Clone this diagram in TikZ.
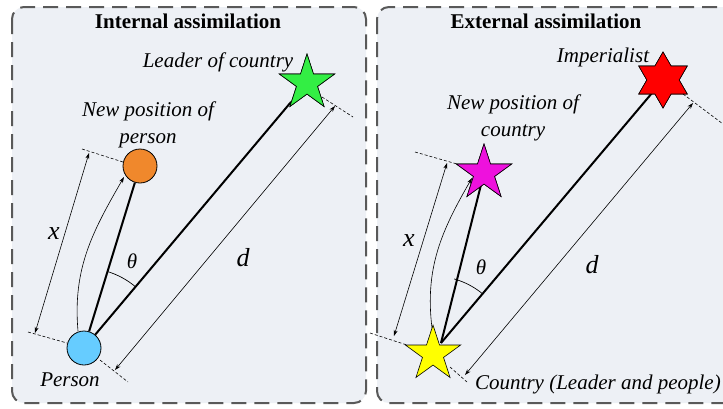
\documentclass[tikz,border=0pt]{standalone}
\usepackage{fontspec}
\setmainfont{Liberation Serif}
\usetikzlibrary{shapes.geometric,arrows.meta,calc}

\definecolor{panelfill}{RGB}{237,240,245}
\definecolor{panelline}{RGB}{89,89,89}
\definecolor{personblue}{RGB}{102,204,255}
\definecolor{personorange}{RGB}{240,136,44}
\definecolor{leadergreen}{RGB}{51,238,68}
\definecolor{countrymagenta}{RGB}{238,17,221}
\definecolor{countryyellow}{RGB}{255,255,0}
\definecolor{imperialred}{RGB}{255,0,0}

\tikzset{
  panel/.style={draw=panelline, fill=panelfill, line width=2pt,
    dash pattern=on 15pt off 8pt, rounded corners=12pt},
  paneltitle/.style={font=\fontsize{21}{24}\selectfont\bfseries, inner sep=0pt},
  caption/.style={font=\fontsize{21}{27}\selectfont\itshape, inner sep=0pt, align=center},
  symlabel/.style={font=\fontsize{26}{30}\selectfont\itshape, inner sep=0pt},
  anglelabel/.style={font=\fontsize{21}{24}\selectfont\itshape, inner sep=0pt},
  agent/.style={circle, draw=black, line width=0.8pt, minimum size=34pt, inner sep=0pt},
  fivestar/.style={star, star points=5, star point ratio=2.618, draw=black,
    line width=0.6pt, minimum size=58pt, inner sep=0pt},
  sixstar/.style={star, star points=6, star point ratio=1.732, draw=black,
    line width=0.6pt, minimum size=56pt, inner sep=0pt},
  bond/.style={line width=2pt},
  extline/.style={densely dashed, line width=0.6pt},
  dimarrow/.style={line width=0.6pt, {Stealth[length=6pt,width=4pt]}-{Stealth[length=6pt,width=4pt]}},
  movearrow/.style={line width=0.6pt, -{Stealth[length=6pt,width=4pt]}},
  anglearc/.style={line width=0.7pt},
}

\begin{document}
\begin{tikzpicture}[x=1pt,y=1pt]
  \useasboundingbox (0,0) rectangle (723,-408);
  \fill[white] (0,0) rectangle (723,-408);

  % the two panels
  \path[panel] (12,-7) rectangle (366,-403);
  \path[panel] (377,-7) rectangle (740,-403);
  \node[paneltitle] (titleL) at (188,-21) {Internal assimilation};
  \node[paneltitle] (titleR) at (546,-21) {External assimilation};

  % ---------- internal assimilation ----------
  \node[agent, fill=personblue] (person) at (84,-348) {};
  \node[agent, fill=personorange] (newperson) at (140,-166) {};
  \node[fivestar, fill=leadergreen] (leader) at (307,-83) {};

  \draw[bond] (person) -- (newperson);
  \draw[bond] (person) -- (leader);
  \node[fivestar, fill=leadergreen] at (leader.center) {};

  \draw[anglearc] ($(person.center)+(72.9:80)$) arc[start angle=72.9, end angle=50, radius=80];
  \node[anglelabel] (thetaL) at (132,-261) {θ};

  % displacement x
  \coordinate (xLtopA) at (82,-149);
  \coordinate (xLtopB) at (123,-162);
  \coordinate (xLbotA) at (28,-332);
  \coordinate (xLbotB) at (67,-343);
  \draw[extline] (xLtopA) -- (xLtopB);
  \draw[extline] (xLbotA) -- (xLbotB);
  \coordinate (xLhi) at (89,-153);
  \coordinate (xLlo) at (35,-333);
  \draw[dimarrow] (xLlo) -- (xLhi);
  \node[symlabel] (xL) at (54,-234) {x};

  % distance d
  \coordinate (dLtopA) at (322,-97);
  \coordinate (dLtopB) at (353,-117);
  \coordinate (dLbotA) at (100,-360);
  \coordinate (dLbotB) at (128,-382);
  \draw[extline] (dLtopA) -- (dLtopB);
  \draw[extline] (dLbotA) -- (dLbotB);
  \coordinate (dLhi) at (335,-106);
  \coordinate (dLlo) at (115,-370);
  \draw[dimarrow] (dLlo) -- (dLhi);
  \node[symlabel] (dL) at (243,-258) {d};

  % movement of the person
  \coordinate (mLstart) at (78,-331);
  \coordinate (mLend) at (124,-177);
  \draw[movearrow] (mLstart) to[out=95, in=240] (mLend);

  \node[caption] (leaderlbl) at (218,-62) {Leader of country};
  \node[caption] (newpersonlbl) at (148,-125) {New position of\\person};
  \node[caption] (personlbl) at (70,-380) {Person};

  % ---------- external assimilation ----------
  \node[fivestar, fill=countryyellow] (country) at (433,-354) {};
  \node[fivestar, fill=countrymagenta] (newcountry) at (484,-173) {};
  \node[sixstar, fill=imperialred] (imperialist) at (663,-80) {};

  \coordinate (cstart) at (441,-343);
  \draw[bond] (cstart) -- (newcountry.center);
  \draw[bond] (cstart) -- (imperialist.center);
  \node[fivestar, fill=countrymagenta] at (newcountry.center) {};
  \node[sixstar, fill=imperialred] at (imperialist.center) {};

  \draw[anglearc] ($(country.center)+(74.3:78)$) arc[start angle=74.3, end angle=50, radius=78];
  \node[anglelabel] (thetaR) at (481,-267) {θ};

  % displacement x
  \coordinate (xRtopA) at (415,-152);
  \coordinate (xRtopB) at (457,-164);
  \coordinate (xRbotA) at (370,-333);
  \coordinate (xRbotB) at (407,-345);
  \draw[extline] (xRtopA) -- (xRtopB);
  \draw[extline] (xRbotA) -- (xRbotB);
  \coordinate (xRhi) at (447,-163);
  \coordinate (xRlo) at (394,-336);
  \draw[dimarrow] (xRlo) -- (xRhi);
  \node[symlabel] (xR) at (409,-241) {x};

  % distance d
  \coordinate (dRtopA) at (683,-94);
  \coordinate (dRtopB) at (723,-124);
  \coordinate (dRbotA) at (450,-367);
  \coordinate (dRbotB) at (467,-382);
  \draw[extline] (dRtopA) -- (dRtopB);
  \draw[extline] (dRbotA) -- (dRbotB);
  \coordinate (dRhi) at (693,-103);
  \coordinate (dRlo) at (465,-375);
  \draw[dimarrow] (dRlo) -- (dRhi);
  \node[symlabel] (dR) at (592,-265) {d};

  % movement of the country
  \coordinate (mRstart) at (432,-328);
  \coordinate (mRend) at (472,-178);
  \draw[movearrow] (mRstart) to[out=97, in=240] (mRend);

  \node[caption] (imperiallbl) at (603,-57) {Imperialist};
  \node[caption] (newcountrylbl) at (513,-118) {New position of\\country};
  \node[caption] (countrylbl) at (598,-384) {Country (Leader and people)};
\end{tikzpicture}
\end{document}
